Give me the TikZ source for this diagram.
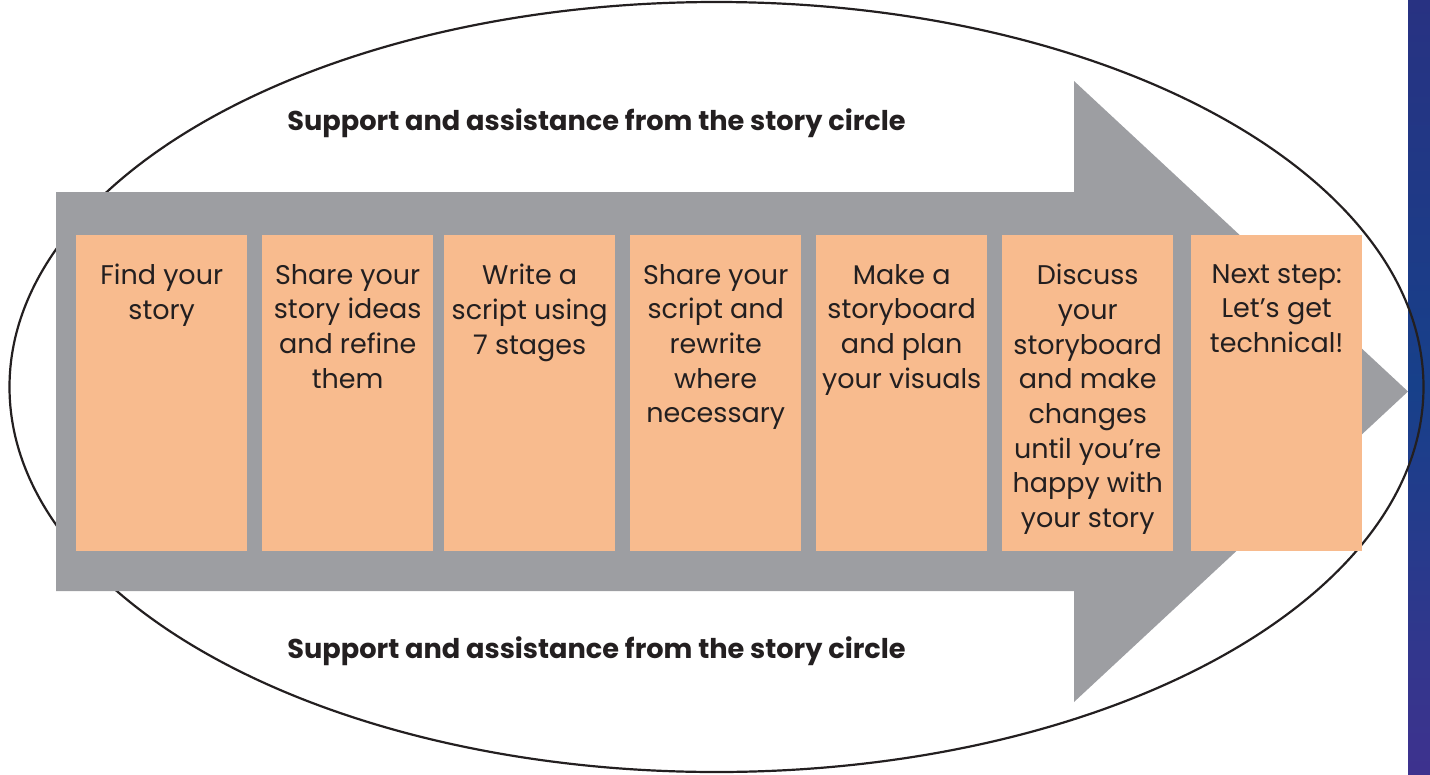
\documentclass[tikz,border=0pt]{standalone}
\usepackage{fontspec}
\setmainfont{Poppins}
\usetikzlibrary{positioning, calc}

\definecolor{arrowgrey}{RGB}{157,158,162}
\definecolor{stepfill}{RGB}{248,187,142}
\definecolor{inkdark}{RGB}{35,31,32}
\definecolor{stripblue}{RGB}{23,64,138}
\definecolor{stripnavy}{RGB}{40,50,130}
\definecolor{strippurple}{RGB}{62,50,142}

\begin{document}
\begin{tikzpicture}[x=1pt, y=-1pt,
		stepbox/.style={fill=stepfill, draw=none, inner sep=0pt, minimum width=171pt, minimum height=316pt, anchor=north west},
		steptext/.style={text=inkdark, align=center, inner sep=0pt, anchor=north, font=\fontsize{27}{34.7}\selectfont},
		headline/.style={text=inkdark, font=\fontsize{27.2}{30}\selectfont\bfseries}]
		\useasboundingbox (0,0) rectangle (1430,774);
		% strip at the right edge
		\shade[top color=stripnavy, bottom color=strippurple, middle color=stripblue] (1408,0) rectangle (1430,774);
		% the story circle
		\draw[inkdark, line width=2.2pt] (716.5,387) ellipse [x radius=707, y radius=385];
		% big grey arrow
		\fill[arrowgrey] (56,192) -- (1074,192) -- (1074,81) -- (1408,391.5) -- (1074,702) -- (1074,591) -- (56,591) -- cycle;
		% the seven steps
		\node[stepbox] (s1) at (76,235) {};
		\node[stepbox] (s2) at (262,235) {};
		\node[stepbox] (s3) at (444,235) {};
		\node[stepbox] (s4) at (630,235) {};
		\node[stepbox] (s5) at (816,235) {};
		\node[stepbox] (s6) at (1002,235) {};
		\node[stepbox] (s7) at (1191,235) {};
		\node[steptext] (t1) at ([yshift=-29pt]s1.north) {Find your\\story};
		\node[steptext] (t2) at ([yshift=-29pt]s2.north) {Share your\\story ideas\\and refine\\them};
		\node[steptext] (t3) at ([yshift=-29pt]s3.north) {Write a\\script using\\7 stages};
		\node[steptext] (t4) at ([yshift=-29pt]s4.north) {Share your\\script and\\rewrite\\where\\necessary};
		\node[steptext] (t5) at ([yshift=-29pt]s5.north) {Make a\\storyboard\\and plan\\your visuals};
		\node[steptext] (t6) at ([yshift=-29pt]s6.north) {Discuss\\your\\storyboard\\and make\\changes\\until you’re\\happy with\\your story};
		\node[steptext] (t7) at ([yshift=-29pt]s7.north) {Next step:\\Let’s get\\technical!};
		% circle support, above and below
		\node[headline] (above) at (596.5,123) {Support and assistance from the story circle};
		\node[headline] (below) at (596.5,651) {Support and assistance from the story circle};
	\end{tikzpicture}
\end{document}
